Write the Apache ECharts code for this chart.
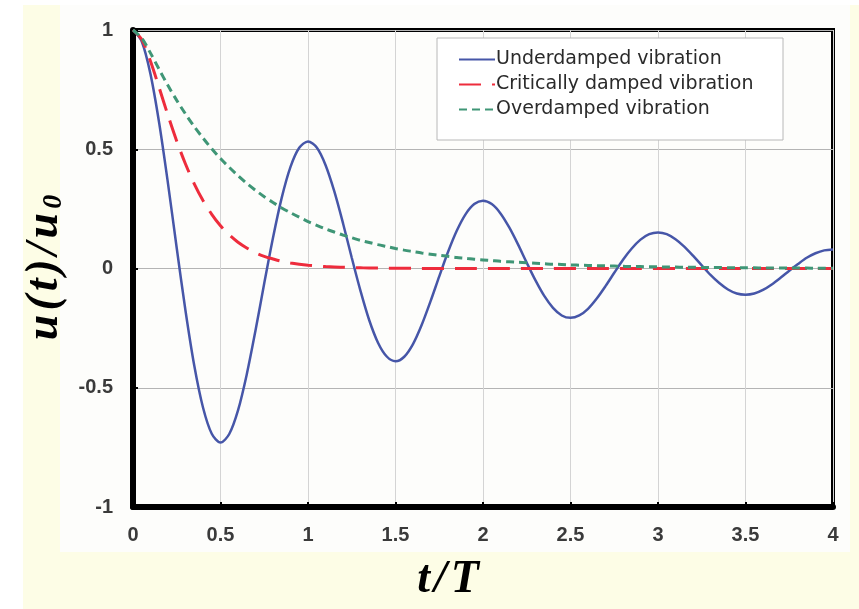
<!DOCTYPE html>
<html>
    <head>
        <meta charset="utf-8">
        <title>damped vibration</title>
        <script src="https://cdn.jsdelivr.net/npm/echarts@6/dist/echarts.min.js"></script>
        <style>
            html, body { margin: 0; padding: 0; background: #ffffff; }
        </style>
    </head>
    <body>
        <div id="chart1" style="width: 859px;height: 609px"></div>
    </body>

    <script type="text/javascript">

        // t/T 从 0 到 4，步长 0.05
        var tStep = 0.05;
        var seriesNames = ['Underdamped vibration', 'Critically damped vibration', 'Overdamped vibration'];

        // 从图上读出来的 u(t)/u0
        var underdamped = [
            1.000, 0.952, 0.815, 0.608, 0.356, 0.085, -0.177, -0.407, -0.583, -0.693,
            -0.730, -0.694, -0.595, -0.444, -0.260, -0.062, 0.129, 0.297, 0.426, 0.506,
            0.533, 0.507, 0.434, 0.324, 0.190, 0.045, -0.094, -0.217, -0.311, -0.369,
            -0.389, -0.370, -0.317, -0.236, -0.138, -0.033, 0.069, 0.158, 0.227, 0.270,
            0.284, 0.270, 0.231, 0.172, 0.101, 0.024, -0.050, -0.115, -0.165, -0.197,
            -0.207, -0.197, -0.169, -0.126, -0.074, -0.018, 0.037, 0.084, 0.121, 0.144,
            0.151, 0.144, 0.123, 0.092, 0.054, 0.013, -0.027, -0.061, -0.088, -0.105,
            -0.110, -0.105, -0.090, -0.067, -0.039, -0.009, 0.019, 0.045, 0.064, 0.076,
            0.080
        ];
        var critical = [
            1.000, 0.960, 0.869, 0.757, 0.642, 0.534, 0.438, 0.355, 0.285, 0.227,
            0.179, 0.141, 0.110, 0.086, 0.066, 0.051, 0.040, 0.030, 0.023, 0.018,
            0.014, 0.011, 0.008, 0.006, 0.005, 0.004, 0.003, 0.002, 0.002, 0.001,
            0.001, 0.001, 0.001, 0, 0, 0, 0, 0, 0, 0,
            0, 0, 0, 0, 0, 0, 0, 0, 0, 0,
            0, 0, 0, 0, 0, 0, 0, 0, 0, 0,
            0, 0, 0, 0, 0, 0, 0, 0, 0, 0,
            0, 0, 0, 0, 0, 0, 0, 0, 0, 0,
            0
        ];
        var overdamped = [
            1.000, 0.966, 0.903, 0.834, 0.767, 0.705, 0.648, 0.595, 0.547, 0.502,
            0.461, 0.424, 0.389, 0.357, 0.328, 0.301, 0.277, 0.254, 0.234, 0.215,
            0.197, 0.181, 0.166, 0.153, 0.140, 0.129, 0.118, 0.109, 0.100, 0.092,
            0.084, 0.077, 0.071, 0.065, 0.060, 0.055, 0.051, 0.046, 0.043, 0.039,
            0.036, 0.033, 0.030, 0.028, 0.026, 0.024, 0.022, 0.020, 0.018, 0.017,
            0.015, 0.014, 0.013, 0.012, 0.011, 0.010, 0.009, 0.008, 0.008, 0.007,
            0.007, 0.006, 0.006, 0.005, 0.005, 0.004, 0.004, 0.004, 0.003, 0.003,
            0.003, 0.003, 0.002, 0.002, 0.002, 0.002, 0.002, 0.002, 0.001, 0.001,
            0.001
        ];

        function pairs(arr) {
            return arr.map(function (v, i) { return [+(i * tStep).toFixed(2), v]; });
        }

        var labelFont = { color: '#3a3a3a', fontSize: 20, fontWeight: 'bold', fontFamily: 'Liberation Sans' };
        var nameFont = { fontFamily: 'Liberation Serif', fontStyle: 'italic', fontWeight: 'bold', fontSize: 46, color: '#000', padding: [0, 2] };

        var myChart1 = echarts.init(document.getElementById('chart1'));
        myChart1.setOption({
            animation: false,
            backgroundColor: '#ffffff',
            graphic: [
                { type: 'rect', z: -10, shape: { x: 23, y: 5, width: 836, height: 604 }, style: { fill: '#fdfde6' } },
                { type: 'rect', z: -9, shape: { x: 60, y: 5, width: 790, height: 547 }, style: { fill: '#fdfdfb' } },
                { type: 'rect', z: 3, shape: { x: 437, y: 38, width: 346, height: 102 }, style: { fill: '#ffffff', stroke: '#b8b8b8', lineWidth: 1 } }
            ],
            grid: {
                left: 133, right: 26, top: 30, bottom: 102,
                show: true, borderColor: '#000', borderWidth: 4,
                outerBoundsMode: 'none'
            },
            legend: {
                z: 4,
                orient: 'vertical',
                left: 458, top: 50,
                padding: 0,
                itemWidth: 36, itemHeight: 12, itemGap: 6,
                itemStyle: { opacity: 0 },
                textStyle: { color: '#2a2a2a', fontSize: 19, fontFamily: 'DejaVu Sans', padding: [0, 0, 0, -4] },
                data: seriesNames
            },
            xAxis: {
                type: 'value', min: 0, max: 4, interval: 0.5,
                name: '{i|t}{i|/}{i|T}',
                nameLocation: 'middle', nameGap: 50,
                nameTextStyle: { padding: [0, 70, 0, 0], rich: { i: nameFont } },
                axisLine: { onZero: false, lineStyle: { color: '#000', width: 6 } },
                axisTick: { inside: true, length: 5, lineStyle: { color: '#000', width: 2 } },
                axisLabel: Object.assign({ margin: 18 }, labelFont),
                splitLine: { lineStyle: { color: '#d4d4d4', width: 1 } }
            },
            yAxis: {
                type: 'value', min: -1, max: 1, interval: 0.5,
                name: '{i|u}{i|(}{i|t}{i|)}{i|/}{i|u}{s|0}',
                nameLocation: 'middle', nameGap: 42, nameRotate: 90,
                nameTextStyle: { rich: { i: nameFont, s: { fontFamily: 'Liberation Serif', fontWeight: 'bold', fontStyle: 'italic', fontSize: 28, color: '#000', verticalAlign: 'bottom', padding: [0, 0, 0, 2] } } },
                axisLine: { onZero: false, lineStyle: { color: '#000', width: 6 } },
                axisTick: { inside: true, length: 5, lineStyle: { color: '#000', width: 2 } },
                axisLabel: Object.assign({ margin: 20 }, labelFont),
                splitLine: { lineStyle: { color: '#b4b4b4', width: 1 } }
            },
            series: [
                {
                    name: seriesNames[0], type: 'line', smooth: 0.3, showSymbol: false, symbol: 'none',
                    data: pairs(underdamped),
                    lineStyle: { color: '#4656a8', width: 2.5 },
                    itemStyle: { color: '#4656a8' }
                },
                {
                    name: seriesNames[1], type: 'line', smooth: 0.3, showSymbol: false, symbol: 'none',
                    data: pairs(critical),
                    lineStyle: { color: '#ee2c3c', width: 3, type: [22, 11] },
                    itemStyle: { color: '#ee2c3c' }
                },
                {
                    name: seriesNames[2], type: 'line', smooth: 0.3, showSymbol: false, symbol: 'none',
                    data: pairs(overdamped),
                    lineStyle: { color: '#3f9676', width: 3, type: [8, 5] },
                    itemStyle: { color: '#3f9676' }
                }
            ]
        });

    </script>
</html>
